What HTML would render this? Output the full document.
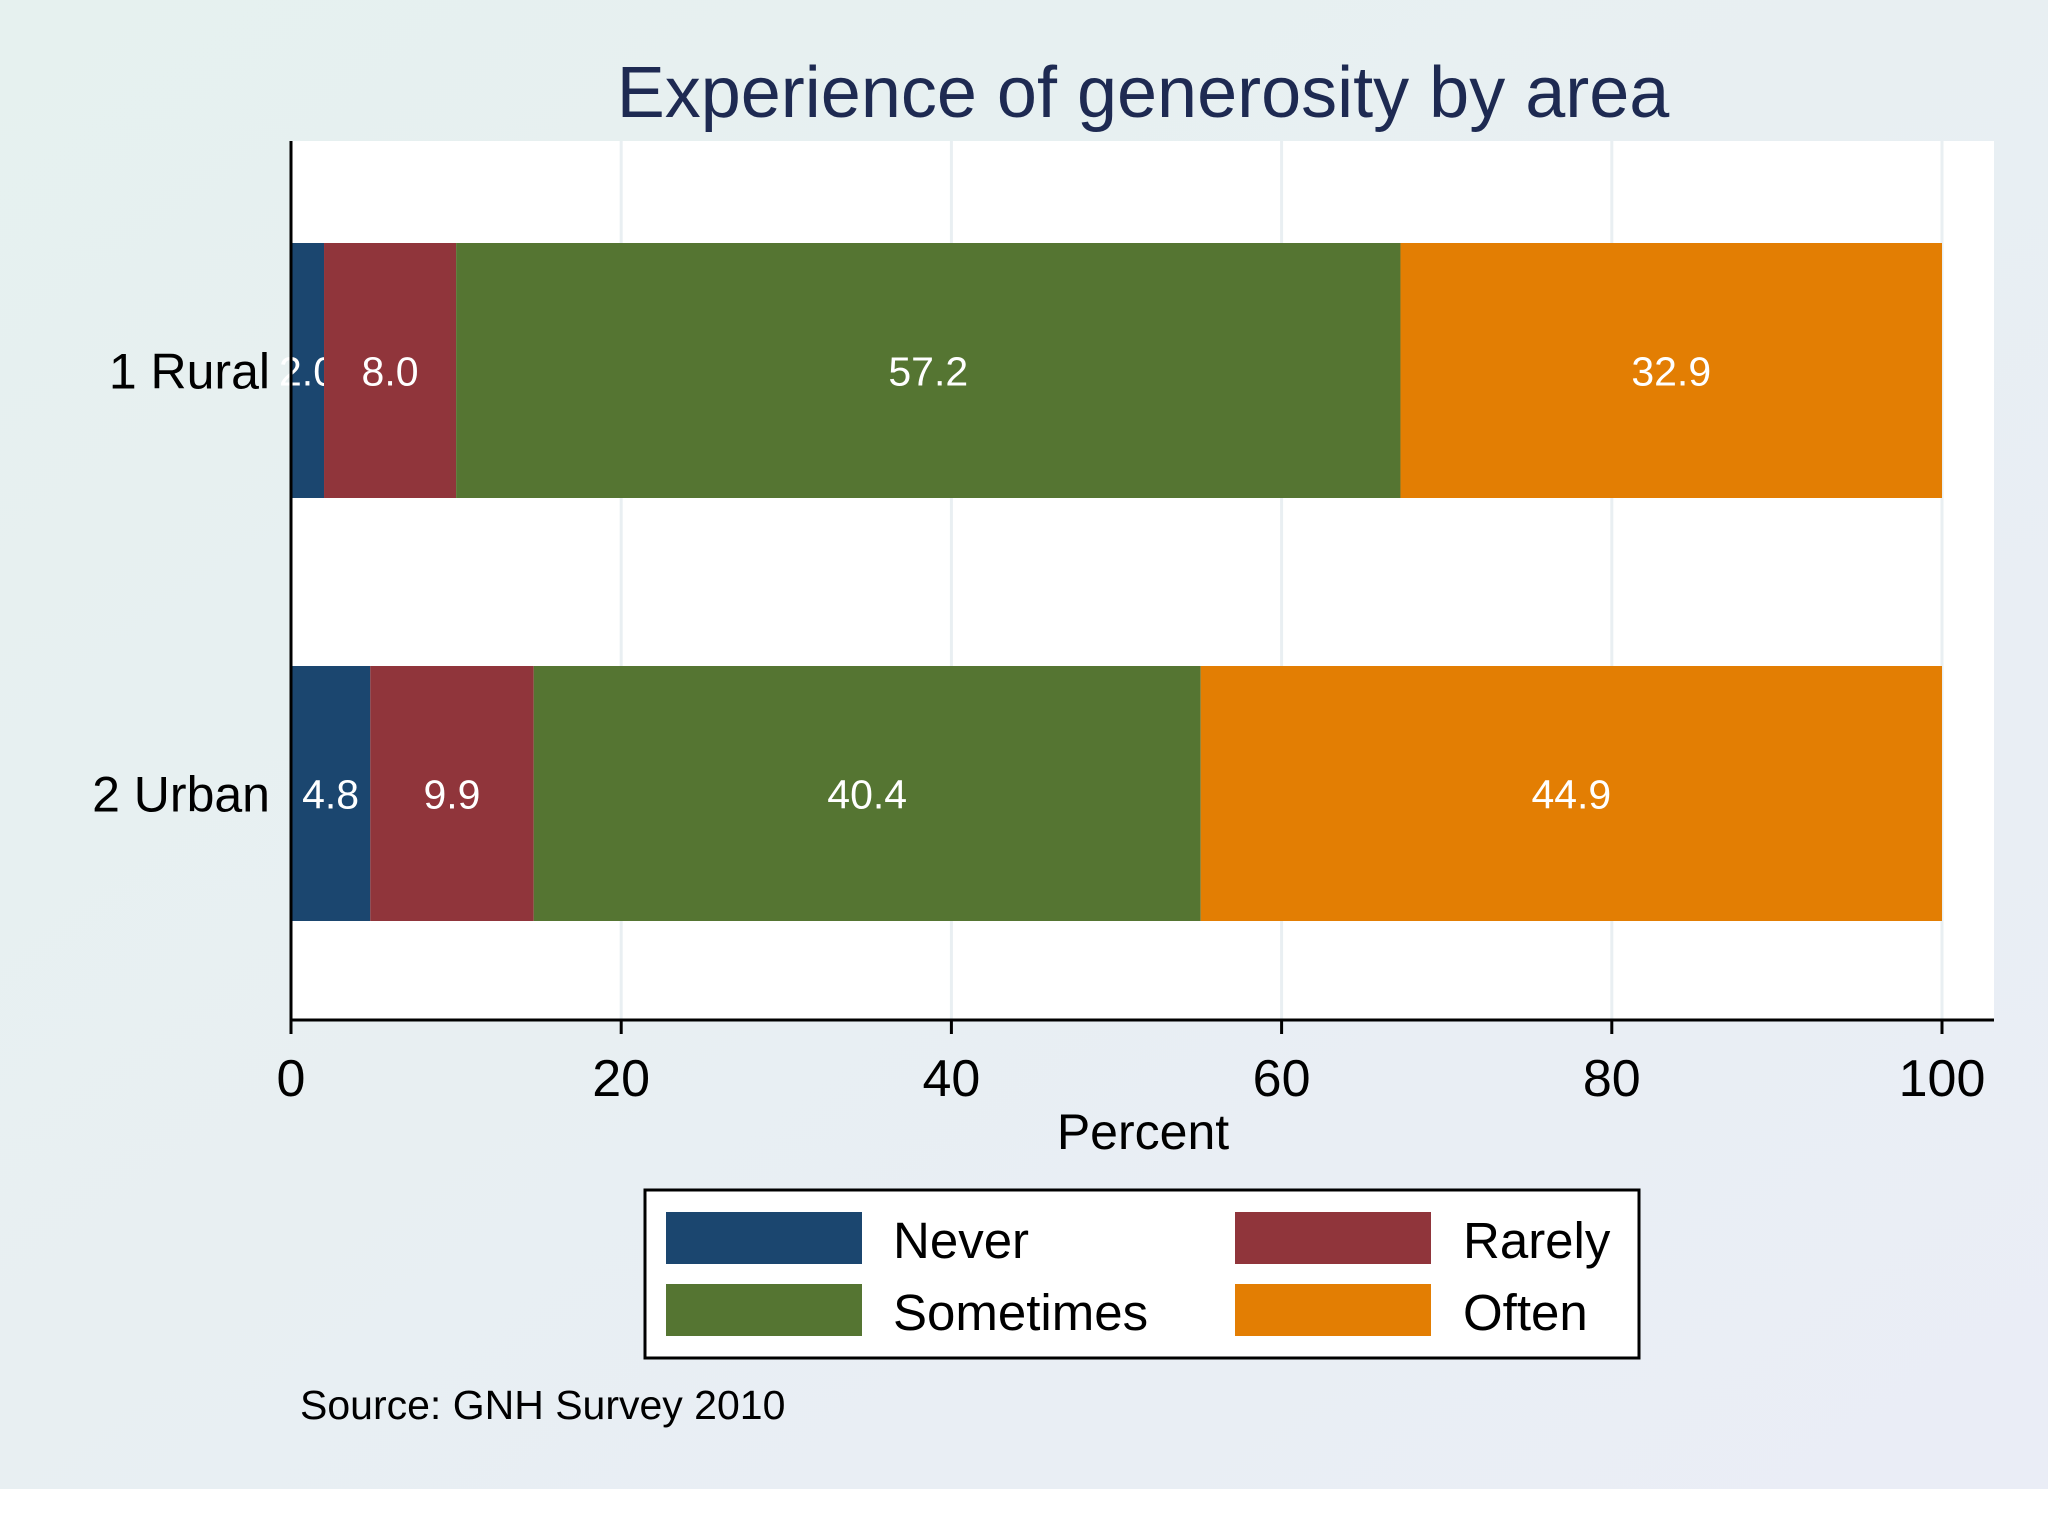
<!DOCTYPE html>
<html><head><meta charset="utf-8"><style>
body{margin:0;background:#fff}
svg{display:block;font-family:"Liberation Sans",Arial,sans-serif}
</style></head><body>
<svg width="2048" height="1536" viewBox="0 0 2048 1536">
<defs><linearGradient id="bg" x1="0" y1="0" x2="1" y2="1"><stop offset="0" stop-color="#e6f1ef"/><stop offset="1" stop-color="#eaedf6"/></linearGradient></defs>
<rect x="0" y="0" width="2048" height="1489" fill="url(#bg)"/>
<text x="1143" y="117" font-size="72" text-anchor="middle" fill="#1e2a52">Experience of generosity by area</text>
<rect x="291" y="141" width="1703" height="879" fill="#fff"/>
<g id="grid"></g>
<g id="bars"></g>
<line x1="291" y1="141" x2="291" y2="1021" stroke="#000" stroke-width="3"/>
<line x1="290" y1="1020" x2="1994" y2="1020" stroke="#000" stroke-width="3"/>
<g id="ticks"></g>
<text x="1143" y="1149" font-size="50" text-anchor="middle" fill="#000">Percent</text>
<g>
<rect x="645" y="1190" width="994" height="168" fill="#fff" stroke="#000" stroke-width="3"/>
<rect x="666" y="1212" width="196" height="52" fill="#1b466f"/>
<text x="893" y="1258" font-size="51">Never</text>
<rect x="1235" y="1212" width="196" height="52" fill="#90353b"/>
<text x="1463" y="1258" font-size="51">Rarely</text>
<rect x="666" y="1284" width="196" height="52" fill="#557532"/>
<text x="893" y="1330" font-size="51">Sometimes</text>
<rect x="1235" y="1284" width="196" height="52" fill="#e37e03"/>
<text x="1463" y="1330" font-size="51">Often</text>
</g>
<text x="300" y="1419" font-size="41">Source: GNH Survey 2010</text>
</svg>
<script>
const categories = ["1 Rural", "2 Urban"];
const never = [2.0, 4.8];
const rarely = [8.0, 9.9];
const sometimes = [57.2, 40.4];
const often = [32.9, 44.9];
const seriesNames = ["never", "rarely", "sometimes", "often"];
const xTicks = [0, 20, 40, 60, 80, 100];
const NS = "http://www.w3.org/2000/svg";
const colors = ["#1b466f", "#90353b", "#557532", "#e37e03"];
const x = v => 291 + v * 16.51;
const bandTop = [243, 666], bandH = 255;
function mk(tag, attrs, parent) { const e = document.createElementNS(NS, tag); for (const k in attrs) e.setAttribute(k, attrs[k]); parent.appendChild(e); return e; }
const grid = document.getElementById("grid"), bars = document.getElementById("bars"), ticks = document.getElementById("ticks");
xTicks.forEach(t => {
  if (t > 0) {
    const g = mk("line", {x1: x(t), y1: 141, x2: x(t), y2: 1020, stroke: "#e9eff2", "stroke-width": 3}, grid);
    
    
  }
  const tk = mk("line", {x1: x(t), y1: 1020, x2: x(t), y2: 1034, stroke: "#000", "stroke-width": 3}, ticks);
  
  
  const tl = mk("text", {x: x(t), y: 1096, "font-size": 52, "text-anchor": "middle"}, ticks);
  tl.textContent = t;
  
  
});
const series = [never, rarely, sometimes, often];
categories.forEach((c, i) => {
  const cl = mk("text", {x: 270, y: bandTop[i] + bandH / 2 + 18, "font-size": 50, "text-anchor": "end"}, ticks);
  cl.textContent = c;
  
  
  let cum = 0;
  series.forEach((s, j) => {
    const v = s[i], a = cum, b = Math.min(100, cum + v);
    cum += v;
    const r = mk("rect", {x: x(a), y: bandTop[i], width: x(b) - x(a), height: bandH, fill: colors[j]}, bars);
    
    
    const lab = mk("text", {x: (x(a) + x(b)) / 2, y: bandTop[i] + bandH / 2 + 15, "font-size": 41, "text-anchor": "middle", fill: "#fff"}, bars);
    lab.textContent = v.toFixed(1);
    
    
  });
});
</script>
</body></html>
